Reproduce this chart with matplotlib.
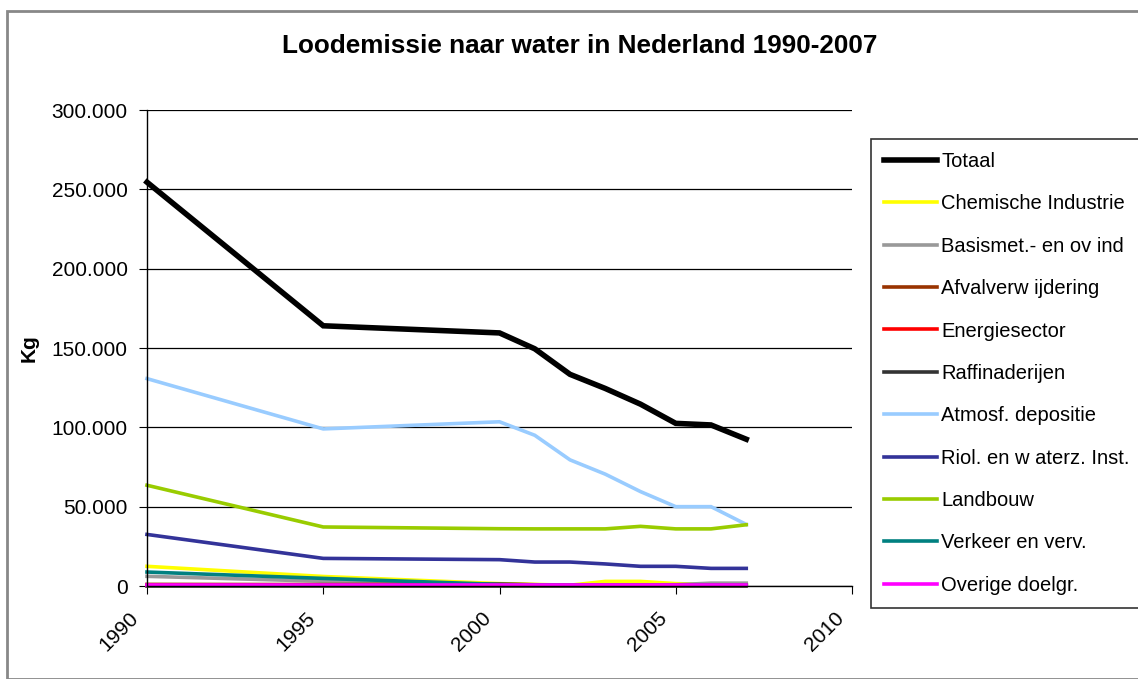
import matplotlib
matplotlib.use("Agg")
import matplotlib.pyplot as plt
from matplotlib.ticker import FuncFormatter
from matplotlib.patches import Rectangle
from matplotlib.transforms import ScaledTranslation

plt.rcParams['font.family'] = ['Liberation Sans', 'DejaVu Sans']

# Data (kg lood naar water)
jaren = [1990, 1995, 2000, 2001, 2002, 2003, 2004, 2005, 2006, 2007]

totaal = [254500, 164000, 159500, 149500, 133400, 124500, 114600, 102500, 101500, 92500]
chemische = [12400, 6000, 1500, 1000, 500, 2900, 2900, 1500, 1000, 1000]
basismet = [6100, 3000, 800, 700, 500, 600, 700, 800, 1800, 1800]
afval = [1000, 900, 1300, 800, 500, 500, 500, 500, 500, 500]
energie = [400, 400, 400, 300, 300, 300, 300, 300, 300, 300]
raffinaderijen = [300, 300, 300, 300, 300, 300, 300, 300, 300, 300]
atmosf = [130700, 99000, 103500, 95000, 79500, 70500, 59500, 50000, 50000, 38800]
riol = [32500, 17400, 16600, 15100, 15100, 13900, 12400, 12400, 11100, 11100]
landbouw = [63500, 37200, 36100, 36000, 36000, 36000, 37600, 36000, 36000, 38600]
verkeer = [8800, 4800, 1000, 700, 500, 500, 500, 500, 500, 500]
overige = [400, 400, 400, 400, 400, 400, 400, 400, 400, 400]

reeksen = [
    ("Totaal", totaal, "#000000", 4.0),
    ("Chemische Industrie", chemische, "#FFFF00", 2.6),
    ("Basismet.- en ov ind", basismet, "#999999", 2.6),
    ("Afvalverw ijdering", afval, "#993300", 2.6),
    ("Energiesector", energie, "#FF0000", 2.6),
    ("Raffinaderijen", raffinaderijen, "#333333", 2.6),
    ("Atmosf. depositie", atmosf, "#99CCFF", 2.6),
    ("Riol. en w aterz. Inst.", riol, "#333399", 2.6),
    ("Landbouw", landbouw, "#99CC00", 2.6),
    ("Verkeer en verv.", verkeer, "#008080", 2.6),
    ("Overige doelgr.", overige, "#FF00FF", 2.6),
]

fig = plt.figure(figsize=(11.38, 6.79), dpi=100)
ax = fig.add_axes([147 / 1138, 1 - 586 / 679, (852 - 147) / 1138, (586 - 110) / 679])

for naam, waarden, kleur, dikte in reeksen:
    ax.plot(jaren, waarden, color=kleur, linewidth=dikte, label=naam,
            solid_joinstyle='miter', clip_on=False)

ax.set_xlim(1990, 2010)
ax.set_ylim(0, 300000)
ax.set_xticks([1990, 1995, 2000, 2005, 2010])
ax.set_yticks(range(0, 300001, 50000))
ax.yaxis.set_major_formatter(FuncFormatter(lambda v, p: f"{int(v):,}".replace(",", ".")))
ax.grid(axis='y', color='black', linewidth=0.9)
ax.set_axisbelow(True)

for s in ['top', 'right']:
    ax.spines[s].set_visible(False)
for s in ['left', 'bottom']:
    ax.spines[s].set_color('black')
    ax.spines[s].set_linewidth(1.0)

ax.tick_params(axis='y', direction='out', length=6, labelsize=15, pad=8)
ax.tick_params(axis='x', direction='out', length=6, labelsize=15, pad=10)
verschuiving = ScaledTranslation(-18 / 100, 0, fig.dpi_scale_trans)
for lbl in ax.get_xticklabels():
    lbl.set_rotation(45)
    lbl.set_ha('right')
    lbl.set_rotation_mode('anchor')
    lbl.set_transform(lbl.get_transform() + verschuiving)

ax.set_ylabel("Kg", fontsize=15, fontweight='bold', labelpad=9)

fig.text(580 / 1138, 1 - 46 / 679, "Loodemissie naar water in Nederland 1990-2007",
         fontsize=18.8, fontweight='bold', ha='center', va='center')

leg = fig.legend(loc='upper left', bbox_to_anchor=(871 / 1138, 1 - 139 / 679),
                 fontsize=14.5, frameon=True, fancybox=False, edgecolor='black',
                 handlelength=2.63, handletextpad=0.2, labelspacing=1.16,
                 borderpad=0.65, borderaxespad=0)
leg.get_frame().set_linewidth(1.2)

# Rand om de grafiek
fig.patches.append(Rectangle((7 / 1138, 0), 1.5, 1 - 11 / 679, transform=fig.transFigure,
                             fill=False, edgecolor='#888888', linewidth=2))

fig.savefig("out.png", dpi=100)
